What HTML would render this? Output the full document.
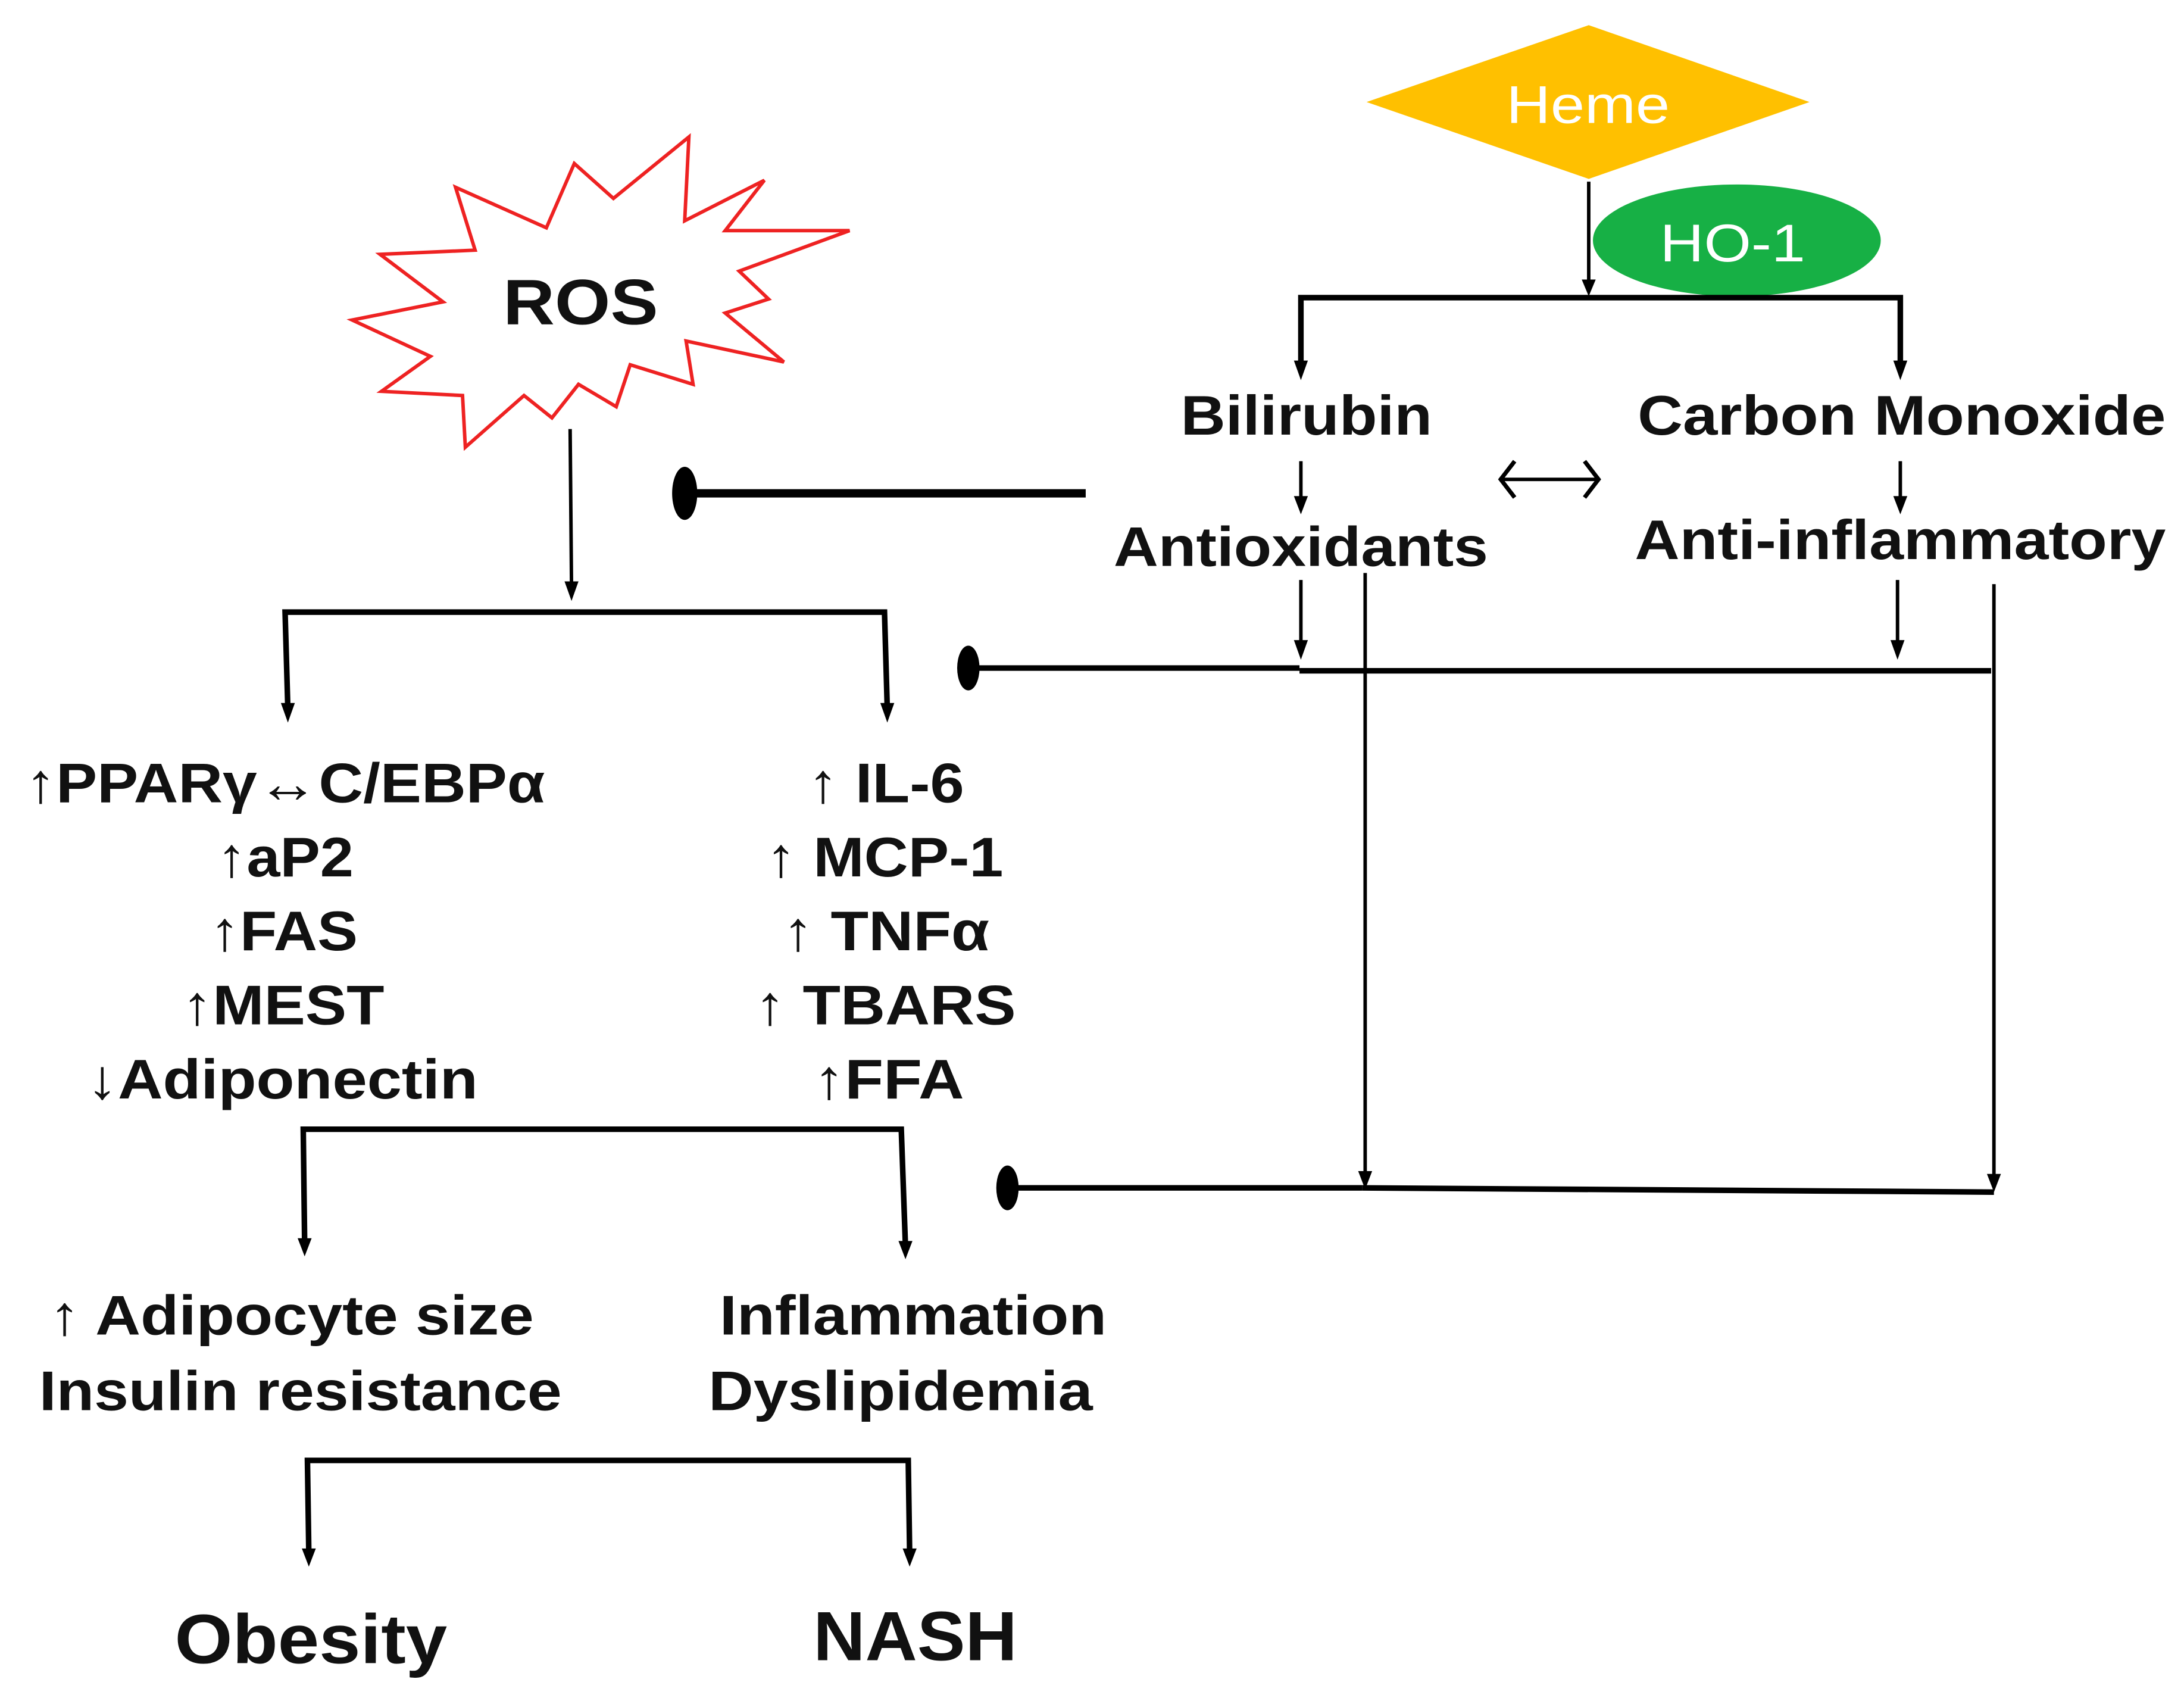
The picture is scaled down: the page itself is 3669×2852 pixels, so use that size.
<!DOCTYPE html>
<html><head><meta charset="utf-8"><style>
html,body{margin:0;padding:0;background:#fff;}
svg{display:block;}
text{font-family:"Liberation Sans",Arial,sans-serif;font-weight:bold;fill:#111;}
</style></head><body>
<svg width="3669" height="2852" viewBox="0 0 1563 1215" xmlns="http://www.w3.org/2000/svg">
<!-- Heme -->
<polygon points="978,73 1137,18 1295,73 1137,128" fill="#FFC000"/>
<text x="1078" y="88" font-size="38" textLength="117" lengthAdjust="spacingAndGlyphs" style="fill:#fff;font-weight:normal">Heme</text>
<ellipse cx="1243" cy="172" rx="103" ry="40" fill="#17B045"/>
<text x="1188" y="187" font-size="38" textLength="104" lengthAdjust="spacingAndGlyphs" style="fill:#fff;font-weight:normal">HO-1</text>
<!-- ROS star -->
<polygon fill="#fff" stroke="#EE2222" stroke-width="2.5" points="493,98 490,158 547,129 519,165 608,165 529,194 550,214 519,224 561,259 491,244 496,275 451,261 441,291 414,275 395,299 375,283 333,320 331,283 273,280 308,255 252,229 317,216 272,182 340,179 326,134 391,163 411,117 439,142"/>
<text x="360" y="232" font-size="46" textLength="111" lengthAdjust="spacingAndGlyphs">ROS</text>
<g stroke="#000" fill="none" stroke-width="2.5">
<line x1="1137" y1="130" x2="1137" y2="203"/>
<polyline points="931,262 931,213 1360,213 1360,262" stroke-width="4"/>
<line x1="931" y1="330" x2="931" y2="358"/>
<line x1="1360" y1="330" x2="1360" y2="358"/>
<line x1="490" y1="353" x2="777" y2="353" stroke-width="6"/>
<line x1="408" y1="307" x2="409" y2="420"/>
<polyline points="206,508 204,438 633,438 635,508" stroke-width="4"/>
<line x1="931" y1="415" x2="931" y2="463"/>
<line x1="1358" y1="415" x2="1358" y2="463"/>
<line x1="693" y1="478" x2="930" y2="478" stroke-width="4"/>
<line x1="930" y1="480" x2="1425" y2="480" stroke-width="4"/>
<line x1="977" y1="410" x2="977" y2="843"/>
<line x1="1427" y1="418" x2="1427" y2="845"/>
<line x1="720" y1="850" x2="975" y2="850" stroke-width="4"/>
<line x1="975" y1="850" x2="1427" y2="853" stroke-width="4"/>
<polyline points="218,890 217,808 645,808 648,892" stroke-width="4"/>
<polyline points="221,1112 220,1045 650,1045 651,1112" stroke-width="4"/>
<!-- double arrow -->
<line x1="1074" y1="343" x2="1144" y2="343" stroke-width="2.5"/>
<polyline points="1084,330 1074,343 1084,356" stroke-width="3"/>
<polyline points="1134,330 1144,343 1134,356" stroke-width="3"/>
</g>
<g fill="#000">
<polygon points="1132,200 1142,200 1137,212"/>
<polygon points="926,258 936,258 931,272"/>
<polygon points="1355,258 1365,258 1360,272"/>
<polygon points="926,355 936,355 931,368"/>
<polygon points="1355,355 1365,355 1360,368"/>
<polygon points="404,416 414,416 409,430"/>
<polygon points="201,503 211,503 206,517"/>
<polygon points="630,503 640,503 635,517"/>
<polygon points="926,458 936,458 931,472"/>
<polygon points="1353,458 1363,458 1358,472"/>
<polygon points="972,838 982,838 977,851"/>
<polygon points="1422,840 1432,840 1427,853"/>
<polygon points="213,886 223,886 218,899"/>
<polygon points="643,888 653,888 648,901"/>
<polygon points="216,1108 226,1108 221,1121"/>
<polygon points="646,1108 656,1108 651,1121"/>
<ellipse cx="490" cy="353" rx="9" ry="19"/>
<ellipse cx="693" cy="478" rx="8" ry="16"/>
<ellipse cx="721" cy="850" rx="8" ry="16"/>
</g>
<text x="845" y="311" font-size="40" textLength="180" lengthAdjust="spacingAndGlyphs">Bilirubin</text>
<text x="1172" y="311" font-size="40" textLength="378" lengthAdjust="spacingAndGlyphs">Carbon Monoxide</text>
<text x="797" y="405" font-size="40" textLength="268" lengthAdjust="spacingAndGlyphs">Antioxidants</text>
<text x="1170" y="400" font-size="40" textLength="380" lengthAdjust="spacingAndGlyphs">Anti-inflammatory</text>
<g font-size="40">
<text x="18" y="574" textLength="372" lengthAdjust="spacingAndGlyphs">↑PPARγ↔C/EBPα</text>
<text x="155" y="627" textLength="98" lengthAdjust="spacingAndGlyphs">↑aP2</text>
<text x="150" y="680" textLength="106" lengthAdjust="spacingAndGlyphs">↑FAS</text>
<text x="130" y="733" textLength="145" lengthAdjust="spacingAndGlyphs">↑MEST</text>
<text x="62" y="786" textLength="280" lengthAdjust="spacingAndGlyphs">↓Adiponectin</text>
<text x="578" y="574" textLength="112" lengthAdjust="spacingAndGlyphs">↑ IL-6</text>
<text x="548" y="627" textLength="170" lengthAdjust="spacingAndGlyphs">↑ MCP-1</text>
<text x="560" y="680" textLength="148" lengthAdjust="spacingAndGlyphs">↑ TNFα</text>
<text x="540" y="733" textLength="187" lengthAdjust="spacingAndGlyphs">↑ TBARS</text>
<text x="582" y="786" textLength="108" lengthAdjust="spacingAndGlyphs">↑FFA</text>
<text x="35" y="955" textLength="347" lengthAdjust="spacingAndGlyphs">↑ Adipocyte size</text>
<text x="28" y="1009" textLength="374" lengthAdjust="spacingAndGlyphs">Insulin resistance</text>
<text x="515" y="955" textLength="277" lengthAdjust="spacingAndGlyphs">Inflammation</text>
<text x="507" y="1009" textLength="275" lengthAdjust="spacingAndGlyphs">Dyslipidemia</text>
</g>
<text x="125" y="1190" font-size="50" textLength="195" lengthAdjust="spacingAndGlyphs">Obesity</text>
<text x="582" y="1188" font-size="50" textLength="146" lengthAdjust="spacingAndGlyphs">NASH</text>
</svg>
</body></html>
